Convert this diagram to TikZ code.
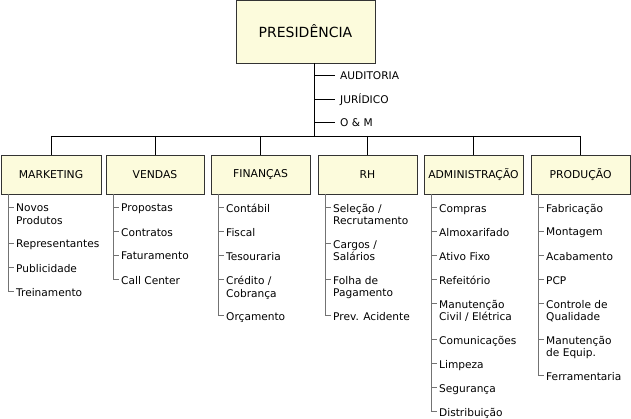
\documentclass[tikz,border=0pt]{standalone}
\usepackage{fontspec}
\setmainfont{DejaVu Sans}
\begin{document}
\begin{tikzpicture}[x=1pt,y=-1pt,
  box/.style={draw=black!80,fill={rgb,255:red,252;green,251;blue,220},minimum height=39pt,inner sep=0pt,font=\fontsize{10.8}{12}\selectfont},
  item/.style={anchor=north west,inner sep=0pt,align=left,font=\fontsize{10.6}{12.5}\selectfont},
  tree/.style={draw=black!55,line width=0.8pt},
  link/.style={draw=black,line width=0.6pt}]
\useasboundingbox (0,0) rectangle (631,419);
\node[box,minimum width=139pt,minimum height=63pt,font=\fontsize{14}{16}\selectfont] (pres) at (305.5,31.5) {PRESIDÊNCIA};
\coordinate (bus) at (314,136);
\draw[link] (pres.south -| bus) -- (bus);
\foreach \t/\y [count=\i] in {AUDITORIA/75,JURÍDICO/99,O \& M/122}{
  \node[item,anchor=west] (s\i) at (340,\y+0.5) {\t};
  \draw[link] (314,\y) -- (335,\y);
}
\foreach \n/\t/\l/\r in {mk/MARKETING/1/101,ve/VENDAS/106/204,fi/FINANÇAS/211/310,rh/RH/318/417,ad/ADMINISTRAÇÃO/424/523,pr/PRODUÇÃO/531/630}{
  \node[box,minimum width={\r-\l}] (\n) at ({(\l+\r)/2},174.5) {\t};
}
\draw[link] (mk.north|-bus) -- (pr.north|-bus);
\foreach \n in {mk,ve,fi,rh,ad,pr}{\draw[link] (\n.north|-bus) -- (\n.north);}
\newcommand\dep[3]{% box, x of line, list
  \foreach \t/\y [count=\i] in {#3}{
    \node[item] (#1i\i) at (#2+8,\y-3) {\t};
    \draw[tree] (#2,\y) -- (#2+6,\y);
    \xdef\lasty{\y}
  }
  \draw[tree] (#2,194) -- (#2,\lasty);
}
\dep{mk}{8}{{Novos\\Produtos}/207,Representantes/243,Publicidade/267,Treinamento/291}
\dep{ve}{113}{Propostas/207,Contratos/231,Faturamento/255,Call Center/279}
\dep{fi}{218}{Contábil/207,Fiscal/231,Tesouraria/255,{Crédito /\\Cobrança}/279,Orçamento/315}
\dep{rh}{325}{{Seleção /\\Recrutamento}/207,{Cargos /\\Salários}/243,{Folha de\\Pagamento}/279,Prev. Acidente/315}
\dep{ad}{431}{Compras/207,Almoxarifado/231,Ativo Fixo/255,Refeitório/279,{Manutenção\\Civil / Elétrica}/303,Comunicações/339,Limpeza/363,Segurança/387,Distribuição/411}
\dep{pr}{538}{Fabricação/207,Montagem/231,Acabamento/255,PCP/279,{Controle de\\Qualidade}/303,{Manutenção\\de Equip.}/339,Ferramentaria/375}
\end{tikzpicture}
\end{document}
